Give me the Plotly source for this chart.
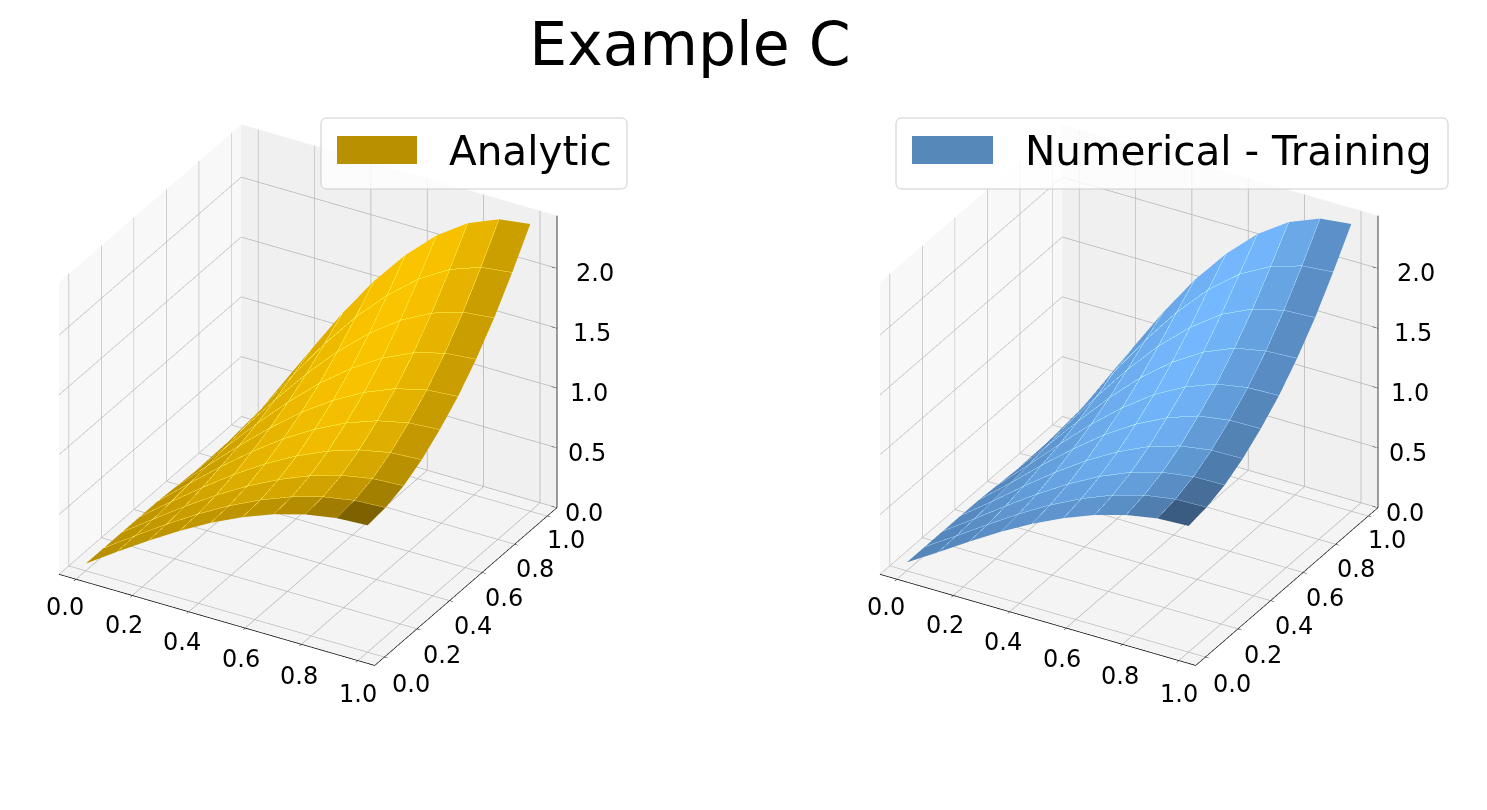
import numpy as np
import plotly.graph_objects as go

W, H = 1487, 810
grid_x = [0, 0.111, 0.222, 0.333, 0.444, 0.556, 0.667, 0.778, 0.889, 1.0]
grid_y = [0, 0.111, 0.222, 0.333, 0.444, 0.556, 0.667, 0.778, 0.889, 1.0]

analytic_z = [
    [.06, .234, .402, .560, .703, .826, .926, 1.000, 1.045, 1.060],
    [.06, .237, .408, .569, .714, .839, .941, 1.016, 1.062, 1.077],
    [.06, .246, .426, .595, .747, .879, .986, 1.065, 1.113, 1.129],
    [.06, .261, .455, .638, .803, .946, 1.061, 1.147, 1.199, 1.216],
    [.06, .282, .497, .699, .881, 1.038, 1.166, 1.260, 1.318, 1.337],
    [.05, .299, .540, .766, .971, 1.147, 1.290, 1.396, 1.461, 1.482],
    [.04, .322, .595, .851, 1.083, 1.282, 1.445, 1.565, 1.638, 1.662],
    [.03, .351, .662, .954, 1.218, 1.445, 1.630, 1.766, 1.849, 1.877],
    [.02, .386, .740, 1.073, 1.374, 1.633, 1.844, 2.000, 2.094, 2.126],
    [0, .418, .821, 1.200, 1.543, 1.838, 2.078, 2.256, 2.364, 2.400],
]
numerical_z = [
    [.07, .230, .395, .552, .694, .818, .920, .995, 1.042, 1.055],
    [.07, .236, .405, .570, .720, .850, .955, 1.030, 1.072, 1.080],
    [.07, .247, .430, .605, .765, .905, 1.015, 1.090, 1.130, 1.135],
    [.07, .263, .465, .655, .830, .980, 1.100, 1.180, 1.220, 1.225],
    [.07, .285, .510, .720, .915, 1.080, 1.210, 1.300, 1.340, 1.345],
    [.06, .305, .555, .795, 1.010, 1.195, 1.335, 1.435, 1.480, 1.490],
    [.05, .330, .615, .885, 1.130, 1.335, 1.495, 1.605, 1.655, 1.670],
    [.04, .360, .685, .990, 1.265, 1.495, 1.680, 1.800, 1.865, 1.880],
    [.03, .395, .765, 1.105, 1.415, 1.680, 1.885, 2.025, 2.105, 2.130],
    [.01, .420, .830, 1.210, 1.555, 1.850, 2.090, 2.265, 2.370, 2.400],
]
tick_xy = [0.0, 0.2, 0.4, 0.6, 0.8, 1.0]
tick_z = [0.0, 0.5, 1.0, 1.5, 2.0]
gold = (251, 196, 0)
blue = (116, 184, 255)
XY_RANGE = [-0.06, 1.06]
Z_RANGE = [0, 2.44]


def surface_mesh(zrows, base, scene):
    z = np.array(zrows, float)
    nx, ny = z.shape[1], z.shape[0]
    X, Y = np.meshgrid(grid_x, grid_y)
    vid = lambda j, i: j * nx + i
    I, J, K, shades = [], [], [], []
    for j in range(ny - 1):
        for i in range(nx - 1):
            d1 = np.array([X[j + 1, i + 1] - X[j, i], Y[j + 1, i + 1] - Y[j, i], z[j + 1, i + 1] - z[j, i]])
            d2 = np.array([X[j + 1, i] - X[j, i + 1], Y[j + 1, i] - Y[j, i + 1], z[j + 1, i] - z[j, i + 1]])
            n = np.cross(d1, d2)
            n = n / np.linalg.norm(n)
            shades.append(float(np.dot(n, [-1, -1, 0.5])))
            I += [vid(j, i), vid(j, i)]
            J += [vid(j, i + 1), vid(j + 1, i + 1)]
            K += [vid(j + 1, i + 1), vid(j + 1, i)]
    s = np.array(shades)
    s = (s - s.min()) / (s.max() - s.min())
    f = 0.5 + 0.5 * s
    cols = []
    for v in f:
        c = "rgb(%d,%d,%d)" % tuple(int(round(v * b)) for b in base)
        cols += [c, c]
    return go.Mesh3d(
        x=X.ravel(), y=Y.ravel(), z=z.ravel(), i=I, j=J, k=K,
        facecolor=cols, flatshading=True,
        lighting=dict(ambient=1, diffuse=0, specular=0, roughness=1, fresnel=0),
        hoverinfo="skip", scene=scene, showscale=False,
    )


def seams(zrows, scene):
    # lifted slightly along the view direction so the facet edges stay on top of the mesh
    z = np.array(zrows, float) + 0.03
    X, Y = np.meshgrid(grid_x, grid_y)
    X = X + 0.011
    Y = Y - 0.019
    xs, ys, zs = [], [], []
    for j in range(1, z.shape[0] - 1):
        xs += list(X[j]) + [None]; ys += list(Y[j]) + [None]; zs += list(z[j]) + [None]
    for i in range(1, z.shape[1] - 1):
        xs += list(X[:, i]) + [None]; ys += list(Y[:, i]) + [None]; zs += list(z[:, i]) + [None]
    return go.Scatter3d(x=xs, y=ys, z=zs, mode="lines", scene=scene, hoverinfo="skip", opacity=0.35,
                        line=dict(color="rgba(255,255,255,0.3)", width=1), showlegend=False)


def z_axis_line(scene):
    xm, ym = XY_RANGE[1], XY_RANGE[1]
    xs, ys, zs = [xm, xm], [ym, ym], [Z_RANGE[0], Z_RANGE[1]]
    for t in tick_z:
        xs += [None, xm, xm - 0.02]; ys += [None, ym, ym]; zs += [None, t, t]
    return go.Scatter3d(x=xs, y=ys, z=zs, mode="lines", scene=scene, hoverinfo="skip",
                        line=dict(color="black", width=1.5), showlegend=False)


fig = go.Figure()
fig.add_trace(surface_mesh(analytic_z, gold, "scene"))
fig.add_trace(seams(analytic_z, "scene"))
fig.add_trace(z_axis_line("scene"))
fig.add_trace(surface_mesh(numerical_z, blue, "scene2"))
fig.add_trace(seams(numerical_z, "scene2"))
fig.add_trace(z_axis_line("scene2"))


def axis(tv, rng, bg, line=True):
    return dict(
        range=rng, autorange=False, tickmode="array", tickvals=tv,
        showticklabels=False,
        title=dict(text=""), showgrid=True, gridcolor="#b5b5b5", gridwidth=1.5,
        zeroline=False, showbackground=True, backgroundcolor=bg,
        showline=line, linecolor="black", linewidth=1.5,
        ticks="outside" if line else "", ticklen=4, tickcolor="black", showspikes=False,
    )


r = 2.68
cz = -0.0285
camera = dict(
    eye=dict(x=r * 0.433, y=-r * 0.75, z=r * 0.5 + cz),
    up=dict(x=0, y=0, z=1), center=dict(x=0, y=0, z=cz),
    projection=dict(type="orthographic"),
)


def label(x, y, z, t, xshift, yshift, xanchor="center"):
    return dict(x=x, y=y, z=z, text="%.1f" % t, showarrow=False, xanchor=xanchor, yanchor="middle",
                xshift=xshift, yshift=yshift, font=dict(family="DejaVu Sans", size=24, color="black"))


def scene(x0, x1):
    lo, hi = XY_RANGE
    labels = [label(t, lo, Z_RANGE[0], t, -11 + 11 * t, -28 - 5 * t) for t in tick_xy]
    labels += [label(hi, t, Z_RANGE[0], t, 27 - 8 * t, -27 + 3 * t) for t in tick_xy]
    labels += [label(hi, hi, t, t, 6 + 5.5 * t, -5, xanchor="left") for t in tick_z]
    return dict(
        domain=dict(x=[x0 / W, x1 / W], y=[0, 1]),
        xaxis=axis(tick_xy, XY_RANGE, "#f8f8f8"),
        yaxis=axis(tick_xy, XY_RANGE, "#f0f0f0"),
        zaxis=axis(tick_z, Z_RANGE, "#f4f4f4", line=False),
        aspectmode="manual", aspectratio=dict(x=0.9, y=0.9, z=0.8325),
        camera=camera,
        annotations=labels,
    )


def px(x):
    return x / W


def py(y):
    return 1 - y / H


def rounded(x0, y0, x1, y1, rad=6):
    return ("M %f,%f L %f,%f Q %f,%f %f,%f L %f,%f Q %f,%f %f,%f L %f,%f Q %f,%f %f,%f L %f,%f Q %f,%f %f,%f Z" % (
        px(x0 + rad), py(y0), px(x1 - rad), py(y0), px(x1), py(y0), px(x1), py(y0 + rad),
        px(x1), py(y1 - rad), px(x1), py(y1), px(x1 - rad), py(y1),
        px(x0 + rad), py(y1), px(x0), py(y1), px(x0), py(y1 - rad),
        px(x0), py(y0 + rad), px(x0), py(y0), px(x0 + rad), py(y0)))


legends = [
    dict(box=(321, 118, 627, 189), sw=(337, 136, 417, 164), col="#b89000", text="Analytic", tx=447),
    dict(box=(896, 118, 1448, 189), sw=(912, 136, 993, 164), col="#5688ba", text="Numerical - Training", tx=1023),
]
shapes, annos = [], []
for L in legends:
    shapes.append(dict(type="path", xref="paper", yref="paper", path=rounded(*L["box"]),
                       fillcolor="rgba(255,255,255,0.8)", line=dict(color="#cccccc", width=1), layer="above"))
    x0, y0, x1, y1 = L["sw"]
    shapes.append(dict(type="rect", xref="paper", yref="paper", x0=px(x0), x1=px(x1), y0=py(y1), y1=py(y0),
                       fillcolor=L["col"], line=dict(width=0), layer="above"))
    annos.append(dict(x=px(L["tx"]), y=py(151), xref="paper", yref="paper", xanchor="left", yanchor="middle",
                      text=L["text"], showarrow=False, font=dict(family="DejaVu Sans", size=40.5, color="black")))

fig.update_layout(
    width=W, height=H, margin=dict(l=0, r=0, t=0, b=0), autosize=False,
    paper_bgcolor="white", showlegend=False,
    title=dict(text="Example C", x=690 / W, xanchor="center", xref="paper",
               y=1 - 44 / H, yanchor="middle", yref="paper",
               font=dict(family="DejaVu Sans", size=60, color="black")),
    scene=scene(0, 616), scene2=scene(821, 1437),
    shapes=shapes, annotations=annos,
)
fig.write_html("out.html", post_script="document.body.style.margin='0';", config=dict(displayModeBar=False))
